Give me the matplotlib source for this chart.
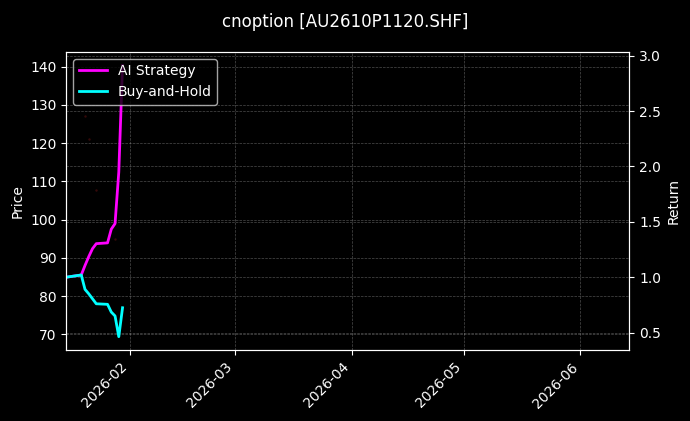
import matplotlib
matplotlib.use("Agg")
import matplotlib.pyplot as plt
import matplotlib.dates as mdates
import pandas as pd

dates = pd.to_datetime([
    "2026-01-15", "2026-01-16", "2026-01-19", "2026-01-20", "2026-01-21", "2026-01-22",
    "2026-01-23", "2026-01-26", "2026-01-27", "2026-01-28", "2026-01-29", "2026-01-30",
])
ai_strategy = [1.0, 1.005, 1.02, 1.106, 1.186, 1.258, 1.303, 1.31, 1.434, 1.484, 1.95, 2.913]
buy_hold = [1.0, 1.005, 1.02, 0.89, 0.85, 0.805, 0.76, 0.755, 0.685, 0.65, 0.463, 0.724]

trade_dates = pd.to_datetime(["2026-01-20", "2026-01-21", "2026-01-23", "2026-01-28"])
trade_prices = [127.2, 121.0, 107.8, 95.0]

plt.style.use("dark_background")
fig, ax = plt.subplots(figsize=(6.9, 4.21), dpi=100)
fig.subplots_adjust(left=0.096, right=0.912, top=0.877, bottom=0.168)

ax.scatter(trade_dates, trade_prices, s=3, color="#5a1010", alpha=0.6, linewidths=0)
ax.set_ylim(65.8, 143.9)
ax.set_ylabel("Price")
ax.grid(True, linestyle="--", linewidth=0.5, alpha=0.3)

ax2 = ax.twinx()
ax2.plot(dates, ai_strategy, color="magenta", linewidth=2, label="AI Strategy")
ax2.plot(dates, buy_hold, color="cyan", linewidth=2, label="Buy-and-Hold")
ax2.set_ylim(0.34, 3.036)
ax2.set_ylabel("Return")
ax2.grid(True, linestyle="--", linewidth=0.5, alpha=0.3)

ax.set_xlim(pd.Timestamp("2026-01-15"), pd.Timestamp("2026-06-14"))
ax.xaxis.set_major_locator(mdates.MonthLocator())
ax.xaxis.set_major_formatter(mdates.DateFormatter("%Y-%m"))
plt.setp(ax.get_xticklabels(), rotation=45, ha="right")

ax2.legend(loc="upper left")
fig.suptitle("cnoption [AU2610P1120.SHF]", y=0.97)

fig.savefig("out.png")
